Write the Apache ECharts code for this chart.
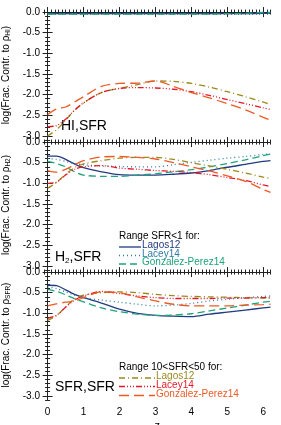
<!DOCTYPE html>
<html><head><meta charset="utf-8">
<script src="https://cdn.jsdelivr.net/npm/echarts@6/dist/echarts.min.js"></script>
<style>html,body{margin:0;padding:0;background:#fff}#c{width:281px;height:425px}</style>
</head><body><div id="c"></div>
<script>
// redshift grid
const zs = [0,0.25,0.5,0.75,1,1.5,2,2.5,3,3.5,4,4.5,5,5.5,6,6.2];
// Panel 1: HI,SFR
const hi_lagosLow  = [-0.04,-0.04,-0.04,-0.04,-0.04,-0.04,-0.04,-0.04,-0.04,-0.04,-0.04,-0.04,-0.04,-0.04,-0.03,-0.03];
const hi_laceyLow  = [-0.04,-0.04,-0.04,-0.04,-0.04,-0.04,-0.04,-0.04,-0.04,-0.04,-0.04,-0.04,-0.04,-0.04,-0.03,-0.03];
const hi_gpLow     = [-0.05,-0.05,-0.05,-0.05,-0.05,-0.05,-0.05,-0.05,-0.05,-0.05,-0.05,-0.05,-0.04,-0.03,-0.01,-0.01];
const hi_lagosHigh = [-3.0,-2.85,-2.62,-2.38,-2.2,-1.95,-1.85,-1.76,-1.67,-1.68,-1.73,-1.82,-1.93,-2.05,-2.18,-2.24];
const hi_laceyHigh = [-2.78,-2.75,-2.6,-2.38,-2.2,-1.95,-1.85,-1.83,-1.84,-1.87,-1.93,-2.02,-2.12,-2.22,-2.32,-2.36];
const hi_gpHigh    = [-2.48,-2.35,-2.3,-2.18,-2.05,-1.8,-1.73,-1.72,-1.67,-1.8,-1.95,-2.08,-2.22,-2.37,-2.55,-2.62];
// Panel 2: H2,SFR
const h2_lagosLow  = [-0.34,-0.34,-0.42,-0.53,-0.62,-0.72,-0.79,-0.8,-0.8,-0.78,-0.75,-0.69,-0.61,-0.54,-0.47,-0.45];
const h2_laceyLow  = [-0.4,-0.42,-0.47,-0.52,-0.55,-0.58,-0.59,-0.6,-0.6,-0.55,-0.49,-0.44,-0.39,-0.35,-0.3,-0.28];
const h2_gpLow     = [-0.47,-0.52,-0.6,-0.72,-0.8,-0.83,-0.83,-0.8,-0.77,-0.72,-0.67,-0.6,-0.52,-0.43,-0.33,-0.29];
const h2_lagosHigh = [-1.12,-0.98,-0.78,-0.62,-0.53,-0.45,-0.39,-0.37,-0.37,-0.42,-0.5,-0.58,-0.66,-0.75,-0.85,-0.88];
const h2_laceyHigh = [-1.0,-0.97,-0.8,-0.66,-0.6,-0.57,-0.63,-0.66,-0.69,-0.71,-0.74,-0.79,-0.86,-0.93,-1.04,-1.08];
const h2_gpHigh    = [-0.69,-0.73,-0.66,-0.55,-0.45,-0.36,-0.35,-0.37,-0.41,-0.5,-0.6,-0.7,-0.82,-0.95,-1.15,-1.22];
// Panel 3: SFR,SFR
const sfr_lagosLow  = [-0.32,-0.33,-0.43,-0.54,-0.62,-0.75,-0.9,-1.0,-1.05,-1.07,-1.08,-1.02,-0.97,-0.92,-0.87,-0.85];
const sfr_laceyLow  = [-0.36,-0.4,-0.48,-0.56,-0.62,-0.68,-0.73,-0.78,-0.82,-0.8,-0.76,-0.7,-0.66,-0.62,-0.59,-0.58];
const sfr_gpLow     = [-0.42,-0.47,-0.55,-0.65,-0.72,-0.87,-0.96,-1.02,-1.05,-1.04,-1.01,-0.94,-0.87,-0.8,-0.73,-0.71];
const sfr_lagosHigh = [-1.17,-1.05,-0.85,-0.65,-0.56,-0.5,-0.48,-0.5,-0.54,-0.57,-0.59,-0.6,-0.61,-0.62,-0.63,-0.64];
const sfr_laceyHigh = [-1.12,-1.05,-0.85,-0.68,-0.58,-0.47,-0.52,-0.58,-0.62,-0.64,-0.64,-0.64,-0.63,-0.63,-0.62,-0.62];
const sfr_gpHigh    = [-0.82,-0.77,-0.73,-0.7,-0.62,-0.48,-0.5,-0.6,-0.7,-0.78,-0.82,-0.82,-0.82,-0.8,-0.79,-0.78];
// ticks
const xMajorTicks = [0,1,2,3,4,5,6];
const yMajorTicks = [0,-0.5,-1,-1.5,-2,-2.5,-3];
const panelNames = ['HI','H2','SFR'];

const FONT = 'Liberation Sans, Arial, sans-serif';
const C = {
  lagosLow:'#223b80', laceyLow:'#2f7ca6', gpLow:'#1ea37a',
  lagosHigh:'#9a8a1c', laceyHigh:'#e3192a', gpHigh:'#ee5a24'
};
const S = {
  lagosLow:'solid', laceyLow:[1,3], gpLow:[7,4],
  lagosHigh:[6,3,1,3], laceyHigh:[6,2,1,2,1,2,1,2], gpHigh:[10,5]
};
const panels = [
  {lagosLow:hi_lagosLow,laceyLow:hi_laceyLow,gpLow:hi_gpLow,lagosHigh:hi_lagosHigh,laceyHigh:hi_laceyHigh,gpHigh:hi_gpHigh},
  {lagosLow:h2_lagosLow,laceyLow:h2_laceyLow,gpLow:h2_gpLow,lagosHigh:h2_lagosHigh,laceyHigh:h2_laceyHigh,gpHigh:h2_gpHigh},
  {lagosLow:sfr_lagosLow,laceyLow:sfr_laceyLow,gpLow:sfr_gpLow,lagosHigh:sfr_lagosHigh,laceyHigh:sfr_laceyHigh,gpHigh:sfr_gpHigh}
];
const XMIN=-0.1, XMAX=6.2, YMIN=-3.1, YMAX=0.05;
const tops=[10,140,270], H=130, LEFT=44, RIGHT=10.5;
const xMinor=[], yMinor=[];
for(let i=-1;i<=62;i++) xMinor.push(+(i/10).toFixed(1));
for(let i=-31;i<=0;i++) yMinor.push(+(i/10).toFixed(1));

const grids=[], xAxes=[], yAxes=[], series=[];
const axisLine={show:true,lineStyle:{color:'#222',width:1}};
panels.forEach((p,gi)=>{
  grids.push({left:LEFT,right:RIGHT,top:tops[gi],height:H,containLabel:false,outerBoundsMode:'none'});
  const isLast = gi===2;
  ['bottom','top'].forEach(pos=>{
    xAxes.push({type:'value',gridIndex:gi,position:pos,min:XMIN,max:XMAX,
      axisLine:axisLine,splitLine:{show:false},
      axisTick:{show:true,inside:true,length:5,customValues:xMajorTicks,lineStyle:{color:'#222'}},
      axisLabel:{show:isLast&&pos==='bottom',customValues:xMajorTicks,fontFamily:FONT,fontSize:10,color:'#000',margin:7},
      name:(isLast&&pos==='bottom')?'z':'',nameLocation:'middle',nameGap:20,
      nameTextStyle:{fontFamily:FONT,fontSize:11,color:'#000'}});
    xAxes.push({type:'value',gridIndex:gi,position:pos,min:XMIN,max:XMAX,
      axisLine:{show:false},splitLine:{show:false},axisLabel:{show:false},
      axisTick:{show:true,inside:true,length:2.5,customValues:xMinor,lineStyle:{color:'#222'}}});
  });
  const sub = panelNames[gi];
  ['left','right'].forEach(pos=>{
    yAxes.push({type:'value',gridIndex:gi,position:pos,min:YMIN,max:YMAX,
      axisLine:axisLine,splitLine:{show:false},
      axisTick:{show:true,inside:true,length:5,customValues:yMajorTicks,lineStyle:{color:'#222'}},
      axisLabel:{show:pos==='left',customValues:yMajorTicks,fontFamily:FONT,fontSize:10,color:'#000',margin:4,
        formatter:v=>v.toFixed(1)},
      name:pos==='left'?('{a|log(Frac. Contr. to ρ}{s|'+sub+'}{a|)}'):'',
      nameLocation:'middle',nameGap:28,nameRotate:90,
      nameTextStyle:{rich:{a:{fontFamily:FONT,fontSize:10,color:'#000'},
        s:{fontFamily:FONT,fontSize:6.5,color:'#000',padding:[5,0,0,0]}}}});
    yAxes.push({type:'value',gridIndex:gi,position:pos,min:YMIN,max:YMAX,
      axisLine:{show:false},splitLine:{show:false},axisLabel:{show:false},
      axisTick:{show:true,inside:true,length:2.5,customValues:yMinor,lineStyle:{color:'#222'}}});
  });
  ['lagosLow','laceyLow','gpLow','lagosHigh','laceyHigh','gpHigh'].forEach(k=>{
    series.push({type:'line',xAxisIndex:gi*4,yAxisIndex:gi*4,showSymbol:false,smooth:0.3,
      data:zs.map((z,i)=>[z,p[k][i]]),
      lineStyle:{color:C[k],width:1.3,type:S[k]},z:k.indexOf('High')>0?3:2,silent:true,animation:false});
  });
});

const graphics = [
  {type:'text',left:61,top:119,style:{text:'HI,SFR',fill:'#000',font:'14px '+FONT}},
  {type:'text',left:55,top:250,style:{rich:{a:{fontFamily:FONT,fontSize:14,fill:'#000'},s:{fontFamily:FONT,fontSize:8,fill:'#000',padding:[7,0,0,0]}},text:'{a|H}{s|2}{a|,SFR}'}},
  {type:'text',left:55,top:380,style:{text:'SFR,SFR',fill:'#000',font:'14px '+FONT}},
  {type:'text',left:119,top:231,style:{text:'Range SFR<1 for:',fill:'#000',font:'10px '+FONT}},
  {type:'line',shape:{x1:119,y1:247,x2:141,y2:247},style:{stroke:C.lagosLow,lineWidth:1.3}},
  {type:'line',shape:{x1:119,y1:255.5,x2:141,y2:255.5},style:{stroke:C.laceyLow,lineWidth:1.3,lineDash:S.laceyLow}},
  {type:'line',shape:{x1:119,y1:264,x2:141,y2:264},style:{stroke:C.gpLow,lineWidth:1.3,lineDash:S.gpLow}},
  {type:'text',left:142,top:240.5,style:{text:'Lagos12',fill:C.lagosLow,font:'10px '+FONT}},
  {type:'text',left:142,top:249,style:{text:'Lacey14',fill:C.laceyLow,font:'10px '+FONT}},
  {type:'text',left:142,top:257.5,style:{text:'Gonzalez-Perez14',fill:C.gpLow,font:'10px '+FONT}},
  {type:'text',left:119,top:362,style:{text:'Range 10<SFR<50 for:',fill:'#000',font:'10px '+FONT}},
  {type:'line',shape:{x1:119,y1:378,x2:155,y2:378},style:{stroke:C.lagosHigh,lineWidth:1.3,lineDash:S.lagosHigh}},
  {type:'line',shape:{x1:119,y1:386.5,x2:155,y2:386.5},style:{stroke:C.laceyHigh,lineWidth:1.3,lineDash:S.laceyHigh}},
  {type:'line',shape:{x1:119,y1:395.5,x2:155,y2:395.5},style:{stroke:C.gpHigh,lineWidth:1.3,lineDash:S.gpHigh}},
  {type:'text',left:156,top:371.5,style:{text:'Lagos12',fill:C.lagosHigh,font:'10px '+FONT}},
  {type:'text',left:156,top:380.5,style:{text:'Lacey14',fill:C.laceyHigh,font:'10px '+FONT}},
  {type:'text',left:156,top:389.5,style:{text:'Gonzalez-Perez14',fill:C.gpHigh,font:'10px '+FONT}}
];

const chart = echarts.init(document.getElementById('c'),null,{renderer:'canvas'});
chart.setOption({animation:false,backgroundColor:'#fff',grid:grids,xAxis:xAxes,yAxis:yAxes,series:series,graphic:graphics});
</script></body></html>
